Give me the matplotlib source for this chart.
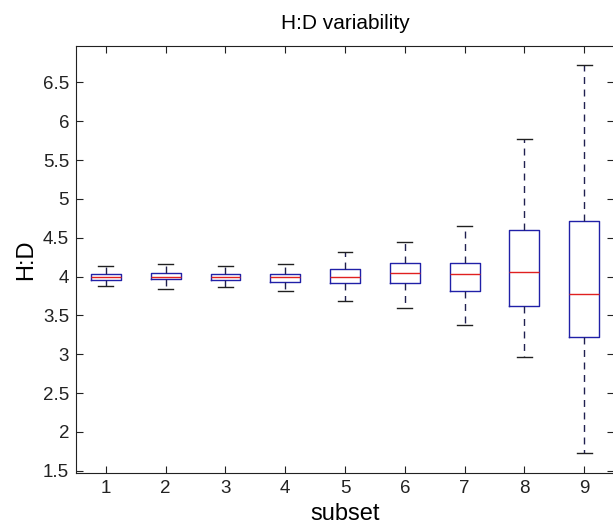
import matplotlib
matplotlib.use('Agg')
import matplotlib.pyplot as plt

plt.rcParams['font.family'] = ['Liberation Sans', 'DejaVu Sans']

# box statistics, one entry per subset
subsets = [1, 2, 3, 4, 5, 6, 7, 8, 9]
medians = [4.00, 4.00, 4.00, 3.99, 4.00, 4.04, 4.03, 4.06, 3.77]
q1 = [3.957, 3.966, 3.953, 3.93, 3.92, 3.92, 3.81, 3.62, 3.22]
q3 = [4.034, 4.05, 4.034, 4.034, 4.094, 4.17, 4.17, 4.60, 4.71]
whislo = [3.876, 3.84, 3.86, 3.81, 3.68, 3.59, 3.38, 2.96, 1.73]
whishi = [4.13, 4.16, 4.13, 4.16, 4.32, 4.44, 4.65, 5.77, 6.72]

stats = []
for i in range(len(subsets)):
    stats.append({'med': medians[i], 'q1': q1[i], 'q3': q3[i],
                  'whislo': whislo[i], 'whishi': whishi[i],
                  'fliers': [], 'label': str(subsets[i])})

fig = plt.figure(figsize=(6.13, 5.26), dpi=100)
ax = fig.add_axes([76 / 613, 53 / 526, 538 / 613, 427 / 526])

box_col = '#2020a8'
wh_col = '#202050'
ax.bxp(stats, positions=subsets, widths=0.5, capwidths=0.25,
       showfliers=False,
       boxprops=dict(color=box_col, linewidth=1.0),
       medianprops=dict(color='#e02020', linewidth=1.0),
       whiskerprops=dict(color=wh_col, linewidth=1.0, linestyle=(0, (5, 4))),
       capprops=dict(color='#202020', linewidth=1.0))

ax.set_xlim(0.5, 9.5)
ax.set_ylim(1.47, 6.97)
ax.set_xticks(subsets)
ax.set_xticklabels([str(s) for s in subsets])
ax.set_yticks([1.5, 2, 2.5, 3, 3.5, 4, 4.5, 5, 5.5, 6, 6.5])
ax.set_yticklabels(['1.5', '2', '2.5', '3', '3.5', '4', '4.5', '5', '5.5', '6', '6.5'])
ax.tick_params(direction='in', length=5, top=True, right=True,
               labelsize=13.5, colors='#222222', pad=5)
for sp in ax.spines.values():
    sp.set_color('#222222')

ax.set_title('H:D variability', fontsize=15, pad=12)
ax.set_xlabel('subset', fontsize=17, labelpad=4)
ax.set_ylabel('H:D', fontsize=17, labelpad=4)

fig.savefig('out.png', dpi=100)
